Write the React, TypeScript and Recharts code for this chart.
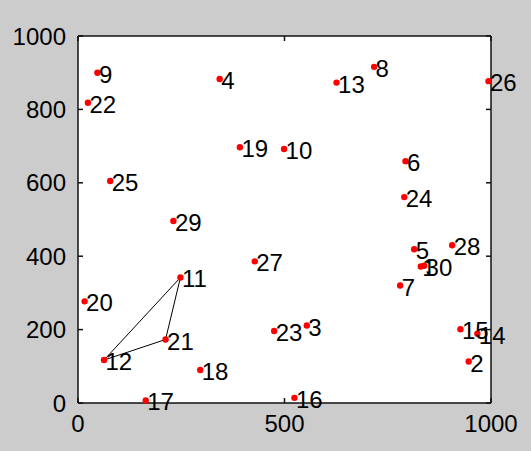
import { ScatterChart, Scatter, XAxis, YAxis, ReferenceLine } from "recharts";

// point numbers and coordinates
const ids = [
  1, 2, 3, 4, 5, 6, 7, 8, 9, 10, 11, 12, 13, 14, 15, 16, 17, 18, 19, 20, 21,
  22, 23, 24, 25, 26, 27, 28, 29, 30,
];
const xs = [
  830, 946, 554, 343, 814, 793, 780, 717, 47, 499, 248, 63, 626, 967, 926, 524,
  164, 296, 392, 16, 212, 24, 475, 790, 78, 994, 428, 906, 231, 838,
];
const ys = [
  372, 113, 211, 883, 419, 659, 320, 916, 900, 692, 342, 117, 873, 189, 201, 14,
  7, 90, 697, 277, 173, 818, 196, 561, 605, 877, 386, 430, 496, 374,
];
// triangle drawn through these points (closed)
const triangle = [12, 11, 21, 12];

const xTicks = [0, 500, 1000];
const yTicks = [0, 200, 400, 600, 800, 1000];

const points = ids.map((id, i) => ({ id, x: xs[i], y: ys[i] }));
const triData = triangle.map((id) => ({ x: xs[id - 1], y: ys[id - 1] }));

const font = '"Liberation Sans", Arial, sans-serif';
const W = 531;
const H = 451;
const LEFT = 78;
const TOP = 36;
const PLOT_W = 413;
const PLOT_H = 367;
const GAP = 12; // label distance from axis
const TICK = 5; // inner tick length

function PointShape(props: any) {
  const { cx, cy, payload } = props;
  return (
    <g>
      <circle cx={cx} cy={cy} r={3.2} fill="#ff0000" />
      <text
        x={cx + 1.5}
        y={cy + 10}
        fontSize={24}
        fontFamily={font}
        fill="#000"
      >
        {payload.id}
      </text>
    </g>
  );
}

// y tick: label left of the axis, inner marks on both left and right edges
function YTick(props: any) {
  const { y, payload } = props;
  return (
    <g>
      <line x1={LEFT} x2={LEFT + TICK} y1={y} y2={y} stroke="#111" strokeWidth={1.5} />
      <line
        x1={LEFT + PLOT_W - TICK}
        x2={LEFT + PLOT_W}
        y1={y}
        y2={y}
        stroke="#111"
        strokeWidth={1.5}
      />
      <text
        x={LEFT - GAP}
        y={y + 8.5}
        textAnchor="end"
        fontSize={24}
        fontFamily={font}
        fill="#000"
      >
        {payload.value}
      </text>
    </g>
  );
}

// x tick: label below the axis, inner marks on bottom and top edges
function XTick(props: any) {
  const { x, payload } = props;
  const bottom = TOP + PLOT_H;
  return (
    <g>
      <line x1={x} x2={x} y1={bottom} y2={bottom - TICK} stroke="#111" strokeWidth={1.5} />
      <line x1={x} x2={x} y1={TOP + TICK} y2={TOP} stroke="#111" strokeWidth={1.5} />
      <text
        x={x}
        y={bottom + GAP + 17}
        textAnchor="middle"
        fontSize={24}
        fontFamily={font}
        fill="#000"
      >
        {payload.value}
      </text>
    </g>
  );
}

const noShape = () => <g />;

export default function App() {
  return (
    <div
      style={{
        position: "absolute",
        left: 0,
        top: 0,
        width: W,
        height: H,
        background: "#cccccc",
      }}
    >
      {/* white plot box behind the svg */}
      <div
        style={{
          position: "absolute",
          left: LEFT,
          top: TOP,
          width: PLOT_W,
          height: PLOT_H,
          background: "#ffffff",
        }}
      />
      <div style={{ position: "absolute", left: 0, top: 0 }}>
        <ScatterChart
          width={W}
          height={H}
          margin={{ top: TOP, right: W - LEFT - PLOT_W, bottom: 18, left: 0 }}
          style={{ fontFamily: font }}
        >
          <XAxis
            type="number"
            dataKey="x"
            domain={[0, 1000]}
            ticks={xTicks}
            height={H - TOP - PLOT_H - 18}
            tickSize={0}
            tickMargin={GAP}
            axisLine={false}
            tickLine={false}
            tick={XTick}
          />
          <YAxis
            type="number"
            dataKey="y"
            domain={[0, 1000]}
            ticks={yTicks}
            width={LEFT}
            tickSize={0}
            tickMargin={GAP}
            axisLine={false}
            tickLine={false}
            tick={YTick}
          />
          <ReferenceLine x={0} stroke="#111" strokeWidth={1.5} />
          <ReferenceLine x={1000} stroke="#111" strokeWidth={1.5} />
          <ReferenceLine y={0} stroke="#111" strokeWidth={1.5} />
          <ReferenceLine y={1000} stroke="#111" strokeWidth={1.5} />
          <Scatter
            data={triData}
            line={{ stroke: "#000", strokeWidth: 1 }}
            shape={noShape}
            isAnimationActive={false}
          />
          <Scatter
            data={points}
            shape={PointShape}
            isAnimationActive={false}
          />
        </ScatterChart>
      </div>
    </div>
  );
}
